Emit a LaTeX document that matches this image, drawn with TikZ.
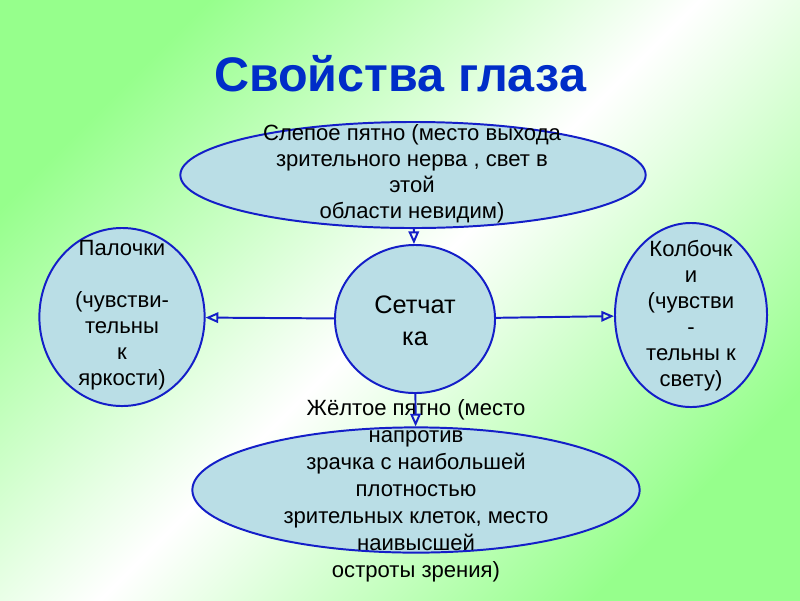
\documentclass[tikz,border=0pt]{standalone}
\usepackage{fontspec}
\setmainfont{Liberation Sans}
\usetikzlibrary{shapes.geometric,arrows.meta}
\definecolor{bggreen}{RGB}{150,255,140}
\definecolor{rimblue}{RGB}{20,30,200}
\definecolor{cellfill}{RGB}{186,222,230}
\definecolor{titleblue}{RGB}{0,45,200}

\begin{document}
\begin{tikzpicture}[x=0.025cm,y=-0.025cm,line join=round,
  cell/.style={ellipse,draw=rimblue,fill=cellfill,line width=1.4pt,inner sep=0pt},
  txt/.style={align=center,inner sep=0pt,font=\fontsize{15.7}{18.5}\selectfont},
  link/.style={draw=rimblue,line width=1.4pt,-{Triangle[open,length=9pt,width=7.5pt]}}]
  \useasboundingbox (0,0) rectangle (800,600);
  \shade[top color=bggreen,bottom color=bggreen,middle color=white,shading angle=45] (0,0) rectangle (800,600);

  \node[font=\bfseries\fontsize{34.5}{40}\selectfont,text=titleblue] (title) at (400,74) {Свойства глаза};

  % cells
  \node[cell,minimum width=11.63cm,minimum height=2.65cm] (blind) at (413,175) {};
  \node[cell,minimum width=4.0cm,minimum height=3.7cm] (retina) at (415,319) {};
  \node[cell,minimum width=4.13cm,minimum height=4.45cm] (rods) at (122,317) {};
  \node[cell,minimum width=3.8cm,minimum height=4.6cm] (cones) at (691,315) {};
  \node[cell,minimum width=11.18cm,minimum height=3.13cm] (macula) at (416,490) {};

  % texts
  \node[txt] (blindtext) at (412,174) {Слепое пятно (место выхода\\зрительного нерва , свет в\\этой\\области невидим)};
  \node[txt,font=\fontsize{18}{22.5}\selectfont] (retinatext) at (415,321) {Сетчат\\ка};
  \node[txt] (rodstext) at (122,315) {Палочки\\\mbox{}\\(чувстви-\\тельны\\к\\яркости)};
  \node[txt] (conestext) at (691,316) {Колбочк\\и\\(чувстви\\-\\тельны к\\свету)};
  \node[txt,font=\fontsize{15.7}{19.2}\selectfont] (maculatext) at (416,491) {Жёлтое пятно (место\\напротив\\зрачка с наибольшей\\плотностью\\зрительных клеток, место\\наивысшей\\остроты зрения)};

  % links
  \draw[link] (blind) -- (retina);
  \draw[link] (retina) -- (rods);
  \draw[link] (retina) -- (cones);
  \draw[link] (retina) -- (macula);
\end{tikzpicture}
\end{document}
